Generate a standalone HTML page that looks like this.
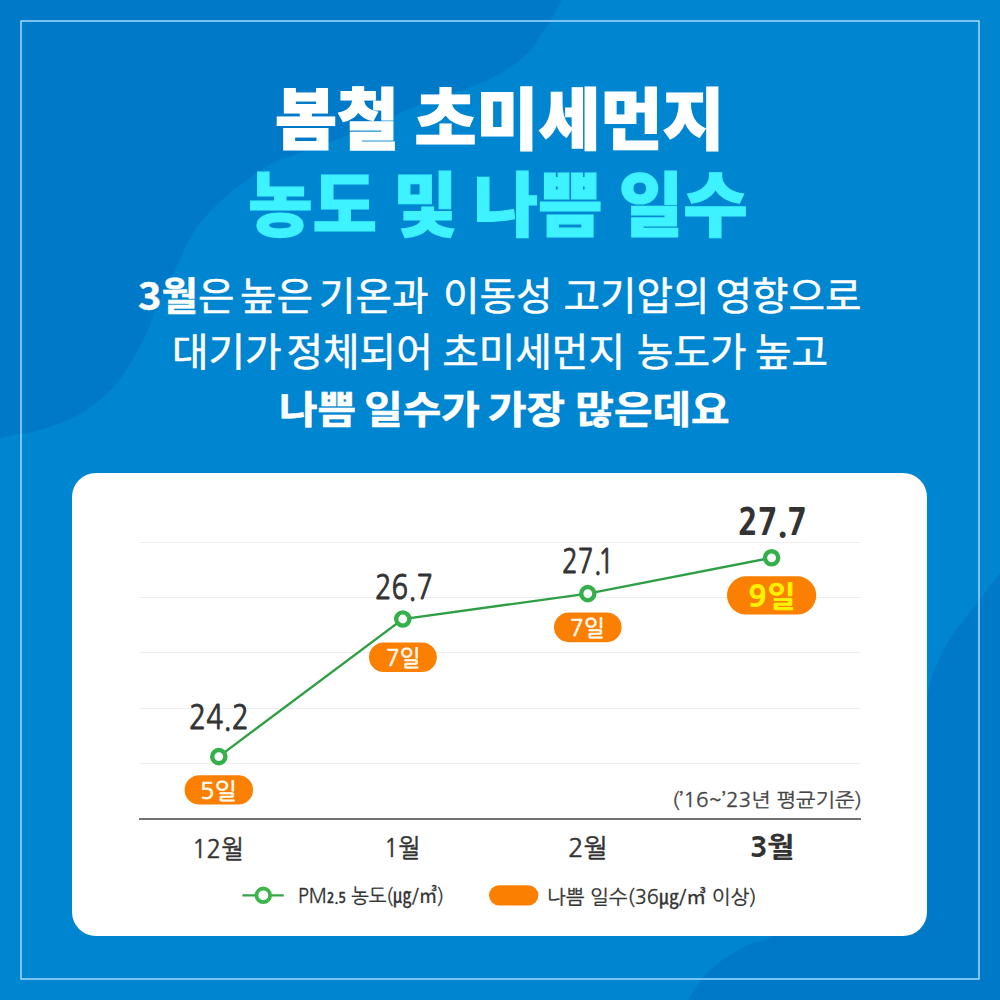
<!DOCTYPE html>
<html>
<head>
<meta charset="utf-8">
<title>봄철 초미세먼지 농도 및 나쁨 일수</title>
<style>
*{margin:0;padding:0;box-sizing:border-box}
html,body{width:1000px;height:1000px;overflow:hidden;background:#007ac8}
body{position:relative;font-family:"Noto Sans CJK KR","Liberation Sans",sans-serif}
.t{position:absolute;white-space:nowrap;line-height:1;transform-origin:0 0}
.t b{font-weight:700}
svg{position:absolute;left:0;top:0;display:block}
#card{position:absolute;left:72px;top:472.5px;width:855px;height:463.5px;background:#fff;border-radius:24px}
</style>
</head>
<body>
<svg width="1000" height="1000" viewBox="0 0 1000 1000">
<rect width="1000" height="1000" fill="#0085d0"/>
<path fill="#007ac8" d="M562 0 C560.3 3.0 555.5 12.2 552 18 C548.5 23.8 544.7 29.5 541 35 C537.3 40.5 534.8 45.8 530 51 C525.2 56.2 518.7 61.3 512 66 C505.3 70.7 497.3 75.3 490 79 C482.7 82.7 475.3 85.3 468 88 C460.7 90.7 453.3 92.5 446 95 C438.7 97.5 431.3 100.2 424 103 C416.7 105.8 409.3 108.7 402 112 C394.7 115.3 390.3 118.7 380 123 C369.7 127.3 353.3 133.0 340 138 C326.7 143.0 309.2 149.7 300 153 C290.8 156.3 290.0 156.0 285 158 C280.0 160.0 275.8 161.7 270 165 C264.2 168.3 258.0 172.2 250 178 C242.0 183.8 231.2 191.3 222 200 C212.8 208.7 202.8 218.3 195 230 C187.2 241.7 180.8 258.3 175 270 C169.2 281.7 164.5 290.0 160 300 C155.5 310.0 151.3 322.3 148 330 C144.7 337.7 143.0 340.3 140 346 C137.0 351.7 134.0 357.7 130 364 C126.0 370.3 121.0 378.0 116 384 C111.0 390.0 106.0 395.0 100 400 C94.0 405.0 86.7 410.2 80 414 C73.3 417.8 66.7 420.3 60 423 C53.3 425.7 46.7 428.2 40 430 C33.3 431.8 26.7 432.7 20 434 C13.3 435.3 3.3 437.3 0 438 L0 0 Z"/>
<path fill="#007ac8" d="M1000 573 C996.7 577.3 986.2 591.0 980 599 C973.8 607.0 968.2 614.2 963 621 C957.8 627.8 953.3 632.8 949 640 C944.7 647.2 940.3 656.0 937 664 C933.7 672.0 932.7 672.0 929 688 C925.3 704.0 923.2 734.7 915 760 C906.8 785.3 894.2 816.7 880 840 C865.8 863.3 848.5 883.7 830 900 C811.5 916.3 781.9 930.4 769 937.6 C756.1 944.8 758.0 940.9 752.4 943.2 C746.8 945.5 741.2 948.3 735.6 951.6 C730.0 954.9 723.7 959.1 718.8 962.8 C713.9 966.5 709.7 970.0 706 974 C702.3 978.0 699.4 982.3 696.4 986.6 C693.4 990.9 689.4 997.8 688 1000 L1000 1000 Z"/>
<rect x="21" y="21" width="958" height="958" fill="none" stroke="#a2dbfa" stroke-width="1.5"/>
</svg>
<div id="card"></div>
<svg width="1000" height="1000" viewBox="0 0 1000 1000">
<g stroke="#eeeeee" stroke-width="1">
<line x1="139" y1="542.5" x2="861" y2="542.5"/>
<line x1="139" y1="597.5" x2="861" y2="597.5"/>
<line x1="139" y1="652.5" x2="861" y2="652.5"/>
<line x1="139" y1="708.5" x2="861" y2="708.5"/>
<line x1="139" y1="763.5" x2="861" y2="763.5"/>
</g>
<line x1="139" y1="819" x2="861" y2="819" stroke="#727272" stroke-width="2"/>
<polyline points="218.8,756.6 402.8,619 587.8,593.6 771.6,557.8" fill="none" stroke="#2f9f45" stroke-width="2.3"/>
<g fill="#fff" stroke="#34b04b" stroke-width="4.4">
<circle cx="218.8" cy="756.6" r="6.6"/>
<circle cx="402.8" cy="619" r="6.6"/>
<circle cx="587.8" cy="593.6" r="6.6"/>
<circle cx="771.6" cy="557.8" r="6.6"/>
</g>
<g fill="#fb8002">
<rect x="184.6" y="775.2" width="68.4" height="29.4" rx="14.7"/>
<rect x="369" y="642.4" width="67.8" height="29.6" rx="14.8"/>
<rect x="554" y="612.4" width="67.6" height="29.8" rx="14.9"/>
<rect x="727" y="576.3" width="89.2" height="38.3" rx="19.15"/>
<rect x="489" y="885.2" width="49.4" height="20.2" rx="10.1"/>
</g>
<line x1="242.4" y1="895.3" x2="283.8" y2="895.3" stroke="#36a548" stroke-width="2.2"/>
<circle cx="263.3" cy="895.3" r="6.8" fill="#fff" stroke="#3db54a" stroke-width="3.8"/>
</svg>

<div class="t" style="left:275.02px;top:81.92px;font-size:66.8px;color:#fff;font-weight:900;-webkit-text-stroke:1.2px #fff;transform:scaleX(1.0089);">봄철 초미세먼지</div>
<div class="t" style="left:248.25px;top:166.28px;font-size:70.01px;color:#3ef2ff;font-weight:900;-webkit-text-stroke:1.2px #3ef2ff;transform:scaleX(1.0016);">농도 및 나쁨 일수</div>
<div class="t" style="left:138.21px;top:275.07px;font-size:38.18px;color:#fff;font-weight:400;-webkit-text-stroke:0.5px #fff;transform:scaleX(1.039);"><b>3월</b>은 <span style="margin-left:-3.23px">높은</span> <span style="margin-left:-2.75px">기온과</span> <span style="margin-left:5.44px">이동성</span> <span style="margin-left:2.07px">고기압의</span> <span style="margin-left:-2.65px">영향으로</span></div>
<div class="t" style="left:172.03px;top:331.02px;font-size:38.18px;color:#fff;font-weight:400;-webkit-text-stroke:0.5px #fff;transform:scaleX(1.0406);">대기가 <span style="margin-left:-3.85px">정체되어</span> <span style="margin-left:0.58px">초미세먼지</span> <span style="margin-left:2.89px">농도가</span> <span style="margin-left:-0.48px">높고</span></div>
<div class="t" style="left:279.09px;top:388.04px;font-size:37.55px;color:#fff;font-weight:700;-webkit-text-stroke:0.6px #fff;transform:scaleX(1.1157);">나쁨 <span style="margin-left:-1.20px">일수가</span> <span style="margin-left:-1.35px">가장</span> <span style="margin-left:0.72px">많은데요</span></div>
<div class="t" style="left:189.13px;top:700.47px;font-size:34.08px;font-family:'NanumGothic','Noto Sans CJK KR',sans-serif;color:#333;font-weight:400;-webkit-text-stroke:0.9px #333;transform:scaleX(0.83);">24.2</div>
<div class="t" style="left:374.96px;top:569.58px;font-size:34.08px;font-family:'NanumGothic','Noto Sans CJK KR',sans-serif;color:#333;font-weight:400;-webkit-text-stroke:0.9px #333;transform:scaleX(0.8038);">26.7</div>
<div class="t" style="left:562.43px;top:543.81px;font-size:34.08px;font-family:'NanumGothic','Noto Sans CJK KR',sans-serif;color:#333;font-weight:400;-webkit-text-stroke:0.9px #333;transform:scaleX(0.7667);">27.</div>
<div class="t" style="left:598.01px;top:543.81px;font-size:34.08px;font-family:'NanumGothic','Noto Sans CJK KR',sans-serif;color:#333;font-weight:400;-webkit-text-stroke:0.9px #333;transform:scaleX(0.772);">1</div>
<div class="t" style="left:737.69px;top:504.38px;font-size:36.57px;font-family:'NanumGothic','Noto Sans CJK KR',sans-serif;color:#333;font-weight:800;transform:scaleX(0.8898);">27.7</div>
<div class="t" style="left:199.73px;top:779.53px;font-size:22.58px;font-family:'NanumGothic','Noto Sans CJK KR',sans-serif;color:#fffaf0;font-weight:400;-webkit-text-stroke:0.7px #fffaf0;transform:scaleX(1.0608);">5일</div>
<div class="t" style="left:386.34px;top:646.63px;font-size:22.58px;font-family:'NanumGothic','Noto Sans CJK KR',sans-serif;color:#fffaf0;font-weight:400;-webkit-text-stroke:0.7px #fffaf0;transform:scaleX(0.9937);">7일</div>
<div class="t" style="left:569.74px;top:616.73px;font-size:22.58px;font-family:'NanumGothic','Noto Sans CJK KR',sans-serif;color:#fffaf0;font-weight:400;-webkit-text-stroke:0.7px #fffaf0;transform:scaleX(0.9991);">7일</div>
<div class="t" style="left:747.79px;top:581.87px;font-size:29.11px;font-family:'NanumGothic','Noto Sans CJK KR',sans-serif;color:#fff200;font-weight:800;transform:scaleX(1.0658);">9일</div>
<div class="t" style="left:671.87px;top:791.17px;font-size:19.62px;font-family:'NanumGothic','Noto Sans CJK KR',sans-serif;color:#444;font-weight:400;-webkit-text-stroke:0.3px #444;transform:scaleX(1.0584);">(’16~’23년 평균기준)</div>
<div class="t" style="left:191.6px;top:836.63px;font-size:25.43px;font-family:'NanumGothic','Noto Sans CJK KR',sans-serif;color:#333;font-weight:400;-webkit-text-stroke:0.45px #333;transform:scaleX(0.9469);">12월</div>
<div class="t" style="left:384.14px;top:836.49px;font-size:25.43px;font-family:'NanumGothic','Noto Sans CJK KR',sans-serif;color:#333;font-weight:400;-webkit-text-stroke:0.45px #333;transform:scaleX(0.9291);">1월</div>
<div class="t" style="left:567.53px;top:836.24px;font-size:25.43px;font-family:'NanumGothic','Noto Sans CJK KR',sans-serif;color:#333;font-weight:400;-webkit-text-stroke:0.45px #333;transform:scaleX(1.0123);">2월</div>
<div class="t" style="left:749.64px;top:834.22px;font-size:27.29px;font-family:'NanumGothic','Noto Sans CJK KR',sans-serif;color:#333;font-weight:800;transform:scaleX(1.063);">3월</div>
<div class="t" style="left:298.27px;top:886.33px;font-size:20.51px;font-family:'NanumGothic','Noto Sans CJK KR',sans-serif;color:#333;font-weight:400;-webkit-text-stroke:0.3px #333;transform:scaleX(0.9094);">PM<span style="font-size:0.68em;font-weight:700">2.5</span> 농도(㎍/㎥)</div>
<div class="t" style="left:546.92px;top:887.82px;font-size:19.56px;font-family:'NanumGothic','Noto Sans CJK KR',sans-serif;color:#333;font-weight:400;-webkit-text-stroke:0.3px #333;transform:scaleX(1.0197);">나쁨 일수(36㎍/㎥ 이상)</div>
</body>
</html>
